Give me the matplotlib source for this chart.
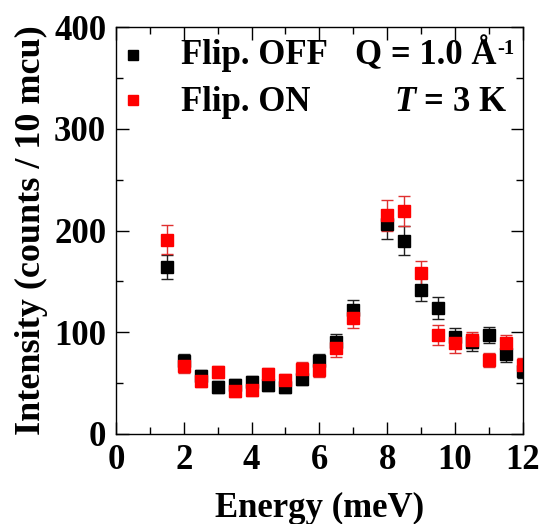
import matplotlib
matplotlib.use("Agg")
import matplotlib.pyplot as plt
import numpy as np

plt.rcParams['font.family'] = ['Liberation Serif', 'DejaVu Serif']
plt.rcParams['font.weight'] = 'bold'
plt.rcParams['mathtext.fontset'] = 'custom'
plt.rcParams['mathtext.rm'] = 'Liberation Serif:bold'
plt.rcParams['mathtext.bf'] = 'Liberation Serif:bold'
plt.rcParams['mathtext.it'] = 'Liberation Serif:italic:bold'

# energy transfer (meV)
energy = [1.5, 2.0, 2.5, 3.0, 3.5, 4.0, 4.5, 5.0, 5.5, 6.0, 6.5, 7.0,
          8.0, 8.5, 9.0, 9.5, 10.0, 10.5, 11.0, 11.5, 12.0]

# spin flipper off
off_int = [164, 72, 57, 46, 48, 51, 48, 46, 54, 72, 90, 122,
           206, 190, 142, 124, 95, 90, 97, 79, 62]
off_err = [12, 7, 6, 6, 6, 6, 6, 6, 6, 7, 8, 10,
           14, 14, 11, 11, 9, 8, 8, 8, 7]

# spin flipper on
on_int = [191, 67, 52, 61, 42, 43, 59, 53, 64, 63, 84, 114,
          215, 219, 158, 97, 89, 92, 73, 89, 68]
on_err = [14, 7, 6, 6, 6, 6, 6, 6, 7, 7, 8, 10,
          15, 15, 12, 10, 9, 8, 7, 8, 7]

fig = plt.figure(figsize=(5.39, 5.24), dpi=100)
ax = fig.add_axes([0.215, 0.172, 0.755, 0.776])

ax.errorbar(energy, off_int, yerr=off_err, fmt='s', color='black', ms=8.5,
            capsize=4.5, elinewidth=1, capthick=1, ecolor='#202020')
ax.errorbar(energy, on_int, yerr=on_err, fmt='s', color='#ff0000', ms=8.5,
            capsize=4.5, elinewidth=1, capthick=1, ecolor='#e03030')

ax.set_xlim(0, 12)
ax.set_ylim(0, 400)
ax.set_xticks(np.arange(0, 13, 2))
ax.set_xticks(np.arange(1, 12, 2), minor=True)
ax.set_yticks(np.arange(0, 401, 100))
ax.set_yticks(np.arange(50, 400, 100), minor=True)
ax.tick_params(which='both', direction='in', top=True, right=True,
               labelsize=25, width=1)
ax.tick_params(which='major', length=9, pad=7)
ax.tick_params(which='minor', length=5)
for s in ax.spines.values():
    s.set_linewidth(1.0)

ax.set_xlabel('Energy (meV)', fontsize=25, fontweight='bold', labelpad=11)
ax.set_ylabel('Intensity (counts / 10 mcu)', fontsize=26, fontweight='bold',
              labelpad=4)

# legend-like labels
ax.plot([0.5], [373], 's', color='black', ms=7)
ax.plot([0.5], [328], 's', color='#ff0000', ms=7)
ax.text(1.92, 364, 'Flip. OFF', fontsize=25, fontweight='bold', va='baseline')
ax.text(1.92, 318, 'Flip. ON', fontsize=25, fontweight='bold', va='baseline')
ax.text(11.23, 364, 'Q = 1.0 Å', fontsize=25, fontweight='bold',
        va='baseline', ha='right')
ax.text(11.25, 374, '-1', fontsize=15, fontweight='bold', va='baseline')
ax.text(11.53, 318, '$T$ = 3 K', fontsize=25, fontweight='bold',
        va='baseline', ha='right')

fig.savefig('out.png', dpi=100)
